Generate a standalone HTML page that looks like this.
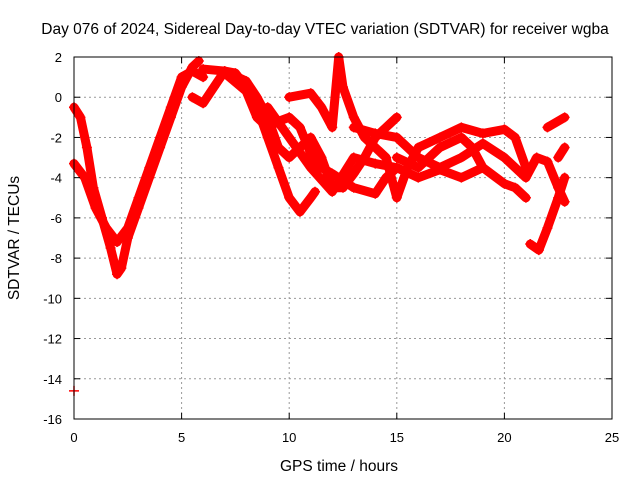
<!DOCTYPE html>
<html><head><meta charset="utf-8"><style>
body{margin:0;background:#fff;}
svg{display:block;font-family:"Liberation Sans",sans-serif;}
</style></head><body>
<svg id="chart" width="640" height="480" viewBox="0 0 640 480">
<rect width="640" height="480" fill="#fff"/>
<g id="grid"></g>
<g id="series"></g>
<rect x="74" y="57" width="538" height="362" fill="none" stroke="#000" stroke-width="1"/>
<g id="ticks"></g>
<text x="325" y="34" font-size="15.5" text-anchor="middle">Day 076 of 2024, Sidereal Day-to-day VTEC variation (SDTVAR) for receiver wgba</text>
<text x="339" y="471" font-size="15.5" text-anchor="middle">GPS time / hours</text>
<text x="19" y="238" font-size="15.5" text-anchor="middle" transform="rotate(-90 19 238)">SDTVAR / TECUs</text>
</svg>
<script>
const xTicks=[0,5,10,15,20,25];
const yTicks=[2,0,-2,-4,-6,-8,-10,-12,-14,-16];
const trackA=[[0,-0.5],[0.3,-1],[0.6,-2.5],[0.9,-4.5],[1.3,-6],[1.7,-7.5],[2.0,-8.8],[2.2,-8.5],[2.5,-7],[3,-5.5],[3.5,-4],[4,-2.5],[4.5,-1],[5,0.5],[5.5,1.5],[5.8,1.8]];
const trackB=[[0,-3.3],[0.5,-4],[1,-5.5],[1.5,-6.5],[2,-7.2],[2.5,-6.5],[3,-5],[3.5,-3.5],[4,-2],[4.5,-0.5],[5,1],[5.5,1.3],[6,1]];
const trackC=[[5.5,0],[6,-0.3],[6.5,0.5],[7,1.3],[7.5,1.2],[8,0.5],[8.5,-0.5],[9,-2],[9.5,-3.5],[10,-5],[10.5,-5.7],[11,-5],[11.2,-4.7]];
const trackD=[[6,1.4],[7,1.3],[8,0.8],[8.5,0],[9,-1],[9.5,-2.5],[10,-3],[10.5,-2.5],[11,-2],[11.5,-3],[12,-4.5],[12.5,-4.5],[13,-3.8],[13.5,-3],[14,-2],[14.5,-1.5],[15,-1]];
const trackE=[[7,1.2],[8,0.3],[8.5,-1],[9,-1.5],[9.5,-1.2],[10,-1],[10.5,-1.5],[11,-2.8],[11.5,-3.5],[12,-3.8],[13,-4.5],[14,-4.8],[14.5,-4],[15,-3.5]];
const trackF=[[10,0],[11,0.2],[11.5,-0.5],[12,-1.5],[12.3,2],[12.5,0.5],[13,-1],[13.5,-2],[14,-2.5],[14.5,-3],[15,-5],[15.5,-3.5],[16,-2.5],[17,-2],[18,-1.5],[19,-1.8],[20,-1.6],[20.5,-2],[21,-3.5]];
const trackG=[[13,-1.5],[14,-1.8],[15,-2],[16,-3],[17,-3.5],[18,-3],[19,-2.3],[20,-3],[21,-4],[21.5,-3],[22,-3.2],[22.5,-4.5],[22.8,-5.2]];
const trackH=[[15,-3],[16,-3.5],[17,-2.5],[18,-2],[18.5,-2.5],[19,-3.5],[20,-4.3],[20.5,-4.5],[21,-5]];
const trackI=[[21.2,-7.3],[21.6,-7.6],[22,-6.5],[22.5,-5],[22.8,-4]];
const trackJ=[[22,-1.5],[22.8,-1]];
const trackK=[[22.5,-3],[22.8,-2.5]];
const trackL=[[9,-0.5],[10,-2],[11,-3.5],[12,-4.7],[13,-3],[14,-3.3],[15,-3.5],[16,-4],[17,-3.6],[18,-4],[19,-3.5]];
const outlier=[[0,-14.6]];
const tracks=[trackA,trackB,trackC,trackD,trackE,trackF,trackG,trackH,trackI,trackJ,trackK,trackL,outlier];

const X0=74,X1=612,Y0=419,Y1=57;
const xs=v=>X0+(v-0)/25*(X1-X0);
const ys=v=>Y0-(v+16)/18*(Y0-Y1);
const NS="http://www.w3.org/2000/svg";
const grid=document.getElementById('grid'),ticks=document.getElementById('ticks'),ser=document.getElementById('series');
function mk(tag,attrs,parent){const e=document.createElementNS(NS,tag);for(const k in attrs)e.setAttribute(k,attrs[k]);parent.appendChild(e);return e;}
xTicks.forEach(t=>{
  const x=xs(t);
  if(t>0&&t<25){const g=mk('line',{x1:x,x2:x,y1:Y1,y2:Y0,stroke:'#999','stroke-dasharray':'2,3'},grid);
  
  }
  mk('line',{x1:x,x2:x,y1:Y0,y2:Y0-6,stroke:'#000'},ticks);
  mk('line',{x1:x,x2:x,y1:Y1,y2:Y1+6,stroke:'#000'},ticks);
  const l=mk('text',{x:x,y:442,'font-size':13,'text-anchor':'middle'},ticks);l.textContent=t;
  
  
});
yTicks.forEach(t=>{
  const y=ys(t);
  if(t>-16&&t<2){const g=mk('line',{x1:X0,x2:X1,y1:y,y2:y,stroke:'#999','stroke-dasharray':'2,3'},grid);
  
  }
  mk('line',{x1:X0,x2:X0+6,y1:y,y2:y,stroke:'#000'},ticks);
  mk('line',{x1:X1,x2:X1-6,y1:y,y2:y,stroke:'#000'},ticks);
  const l=mk('text',{x:62,y:y+5,'font-size':13,'text-anchor':'end'},ticks);l.textContent=t;
  
  
});
tracks.forEach((tr,i)=>{
  if(tr.length>1){
    const p=mk('polyline',{points:tr.map(d=>xs(d[0])+','+ys(d[1])).join(' '),fill:'none',stroke:'#f00','stroke-width':9,'stroke-linejoin':'round','stroke-linecap':'round'},ser);
    
    
  }
  tr.forEach(d=>{
    const x=xs(d[0]),y=ys(d[1]);
    const m=mk('path',{d:`M${x-5},${y}H${x+5}M${x},${y-5}V${y+5}`,stroke:'#f00','stroke-width':1.5},ser);
    
    
  });
});
</script>
</body></html>
